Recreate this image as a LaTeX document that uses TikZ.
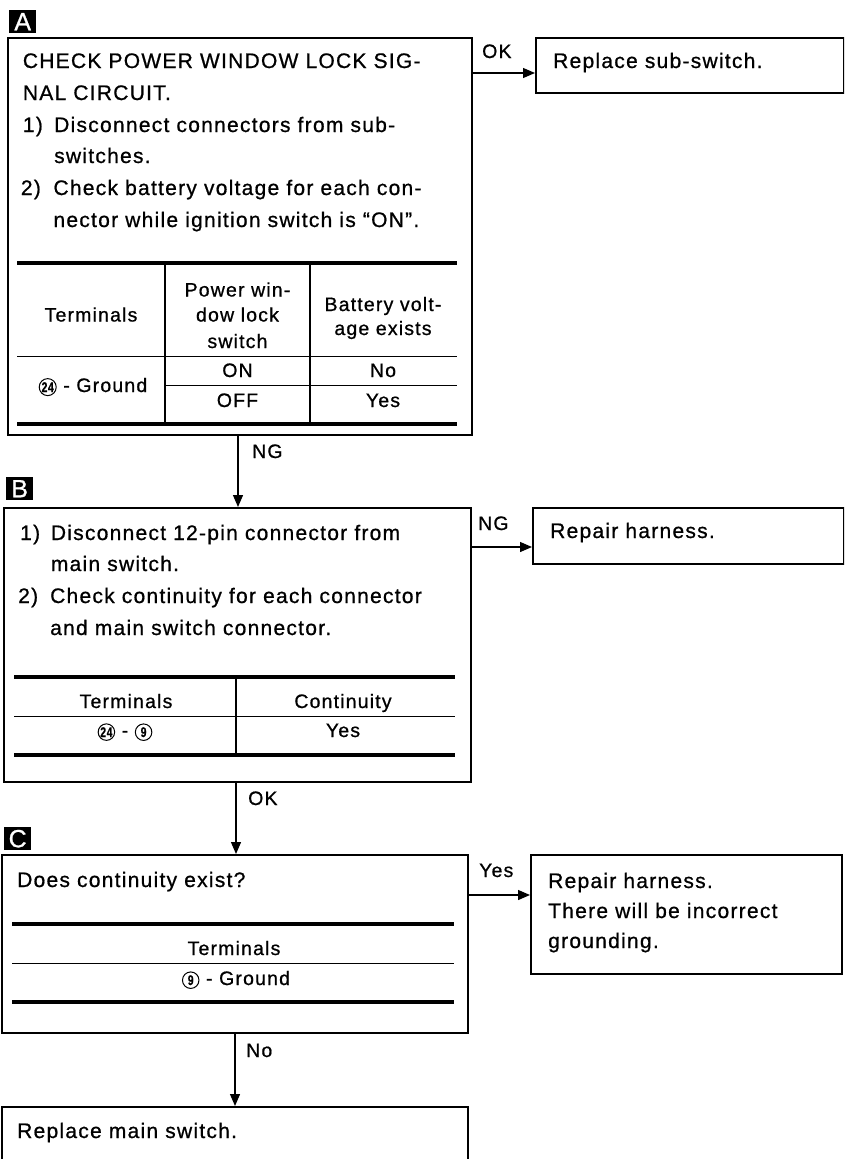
\documentclass[tikz,border=0pt]{standalone}
\usepackage{fontspec}
\setmainfont[LetterSpace=6,FakeBold=0.8]{Liberation Sans}
\usetikzlibrary{arrows.meta}

% circled terminal number
\newcommand\cnum[2][16.5pt]{\tikz[baseline=(cn.base)]\node[circle,draw,line width=1pt,inner sep=0pt,minimum size=#1,font=\fontsize{14}{14}\selectfont\bfseries](cn){\scalebox{0.74}[1]{#2}};}

\tikzset{
  box/.style={draw, line width=1.5pt, anchor=north west, inner sep=0pt},
  txt/.style={anchor=base west, inner sep=0pt, font=\fontsize{21}{24}\selectfont},
  ttxt/.style={anchor=base, inner sep=0pt, font=\fontsize{19.5}{22}\selectfont},
  lbl/.style={anchor=base west, inner sep=0pt, font=\fontsize{19.5}{22}\selectfont},
  tag/.style={fill=black, text=white, inner sep=0pt, minimum width=27pt, minimum height=23pt, anchor=north west, font=\fontsize{25}{25}\selectfont},
  arr/.style={line width=1.3pt, -{Triangle[length=12pt,width=10pt]}},
  heavyrule/.style={line width=3.5pt},
  lightrule/.style={line width=1pt},
  colrule/.style={line width=1.6pt},
}

\begin{document}
\begin{tikzpicture}[x=1pt,y=-1pt]
\useasboundingbox (0,0) rectangle (844,1159);
\clip (0,0) rectangle (844,1159);

% ---------- step A ----------
\node[tag] (tagA) at (9,10) {A};
\node[box, minimum width=464pt, minimum height=397pt] (A) at (7,37) {};
\node[txt] (a1) at (22.7,68) {CHECK POWER WINDOW LOCK SIG-};
\node[txt] (a2) at (22.7,100) {NAL CIRCUIT.};
\node[txt] (a3n) at (22.7,132) {1)};
\node[txt] (a3) at (54,132) {Disconnect connectors from sub-};
\node[txt] (a4) at (54,163) {switches.};
\node[txt] (a5n) at (20.7,195) {2)};
\node[txt] (a5) at (53.3,195) {Check battery voltage for each con-};
\node[txt] (a6) at (53.3,227) {nector while ignition switch is ``ON''.};

\draw[heavyrule] (17,263) -- (457,263);
\draw[heavyrule] (17,424) -- (457,424);
\draw[lightrule] (17,356) -- (457,356);
\draw[lightrule] (165,385) -- (457,385);
\draw[colrule] (165,263) -- (165,424);
\draw[colrule] (310,263) -- (310,424);

\node[ttxt] (ta1) at (91,321.5) {Terminals};
\node[ttxt] (ta2) at (237.5,296.5) {Power win-};
\node[ttxt] (ta3) at (237.5,321.5) {dow lock};
\node[ttxt] (ta4) at (237.5,348) {switch};
\node[ttxt] (ta5) at (383,311) {Battery volt-};
\node[ttxt] (ta6) at (383,335) {age exists};
\node[ttxt] (ta7) at (237.5,377) {ON};
\node[ttxt] (ta8) at (383,377) {No};
\node[ttxt] (ta9) at (237.5,407) {OFF};
\node[ttxt] (ta10) at (383,407) {Yes};
\node[ttxt] (ta11) at (93,392) {\cnum[17pt]{24} - Ground};

% OK branch from A
\node[box, minimum width=308pt, minimum height=55pt] (sub) at (535,37) {};
\node[txt] (subt) at (553,68) {Replace sub-switch.};
\coordinate (yA) at (0,73);
\draw[arr] (A.east |- yA) -- (sub.west |- yA);
\node[lbl] (okA) at (482,58) {OK};

% NG from A down to B
\coordinate (xAB) at (238,0);
\node[tag] (tagB) at (6,477) {B};
\node[box, minimum width=467pt, minimum height=274pt] (B) at (3,507) {};
\draw[arr] (A.south -| xAB) -- (B.north -| xAB);
\node[lbl] (ngA) at (252,458) {NG};

% ---------- step B ----------
\node[txt] (b1n) at (20,540) {1)};
\node[txt] (b1) at (50.7,540) {Disconnect 12-pin connector from};
\node[txt] (b2) at (50.7,571) {main switch.};
\node[txt] (b3n) at (18,603) {2)};
\node[txt] (b3) at (50,603) {Check continuity for each connector};
\node[txt] (b4) at (50,635) {and main switch connector.};

\draw[heavyrule] (14,677) -- (455,677);
\draw[heavyrule] (14,755) -- (455,755);
\draw[lightrule] (14,716) -- (455,716);
\draw[colrule] (236,677) -- (236,755);
\node[ttxt] (tb1) at (126,708) {Terminals};
\node[ttxt] (tb2) at (343,708) {Continuity};
\node[ttxt] (tb3) at (125,737) {\cnum{24} - \cnum{9}};
\node[ttxt] (tb4) at (343,737) {Yes};

% NG branch from B
\node[box, minimum width=311pt, minimum height=56pt] (rep1) at (532,507) {};
\node[txt] (rep1t) at (550,538) {Repair harness.};
\coordinate (yB) at (0,547);
\draw[arr] (B.east |- yB) -- (rep1.west |- yB);
\node[lbl] (ngB) at (478,530) {NG};

% OK from B down to C
\coordinate (xBC) at (236,0);
\node[tag] (tagC) at (4,827) {C};
\node[box, minimum width=466pt, minimum height=178pt] (C) at (1,854) {};
\draw[arr] (B.south -| xBC) -- (C.north -| xBC);
\node[lbl] (okB) at (248,805) {OK};

% ---------- step C ----------
\node[txt] (c1) at (17,887) {Does continuity exist?};
\draw[heavyrule] (12,924) -- (454,924);
\draw[lightrule] (12,963) -- (454,963);
\draw[heavyrule] (12,1002) -- (454,1002);
\node[ttxt] (tc1) at (234,955) {Terminals};
\node[ttxt] (tc2) at (236,985) {\cnum{9} - Ground};

% Yes branch from C
\node[box, minimum width=311pt, minimum height=119pt] (rep2) at (530,854) {};
\node[txt] (rep2a) at (548,888) {Repair harness.};
\node[txt] (rep2b) at (548,918) {There will be incorrect};
\node[txt] (rep2c) at (548,948) {grounding.};
\coordinate (yC) at (0,895);
\draw[arr] (C.east |- yC) -- (rep2.west |- yC);
\node[lbl] (yesC) at (479,877) {Yes};

% No from C down to the last step
\coordinate (xCD) at (235,0);
\node[box, minimum width=466pt, minimum height=80pt] (fin) at (1,1106) {};
\node[txt] (fint) at (17,1138) {Replace main switch.};
\draw[arr] (C.south -| xCD) -- (fin.north -| xCD);
\node[lbl] (noC) at (246,1057) {No};
\end{tikzpicture}
\end{document}
